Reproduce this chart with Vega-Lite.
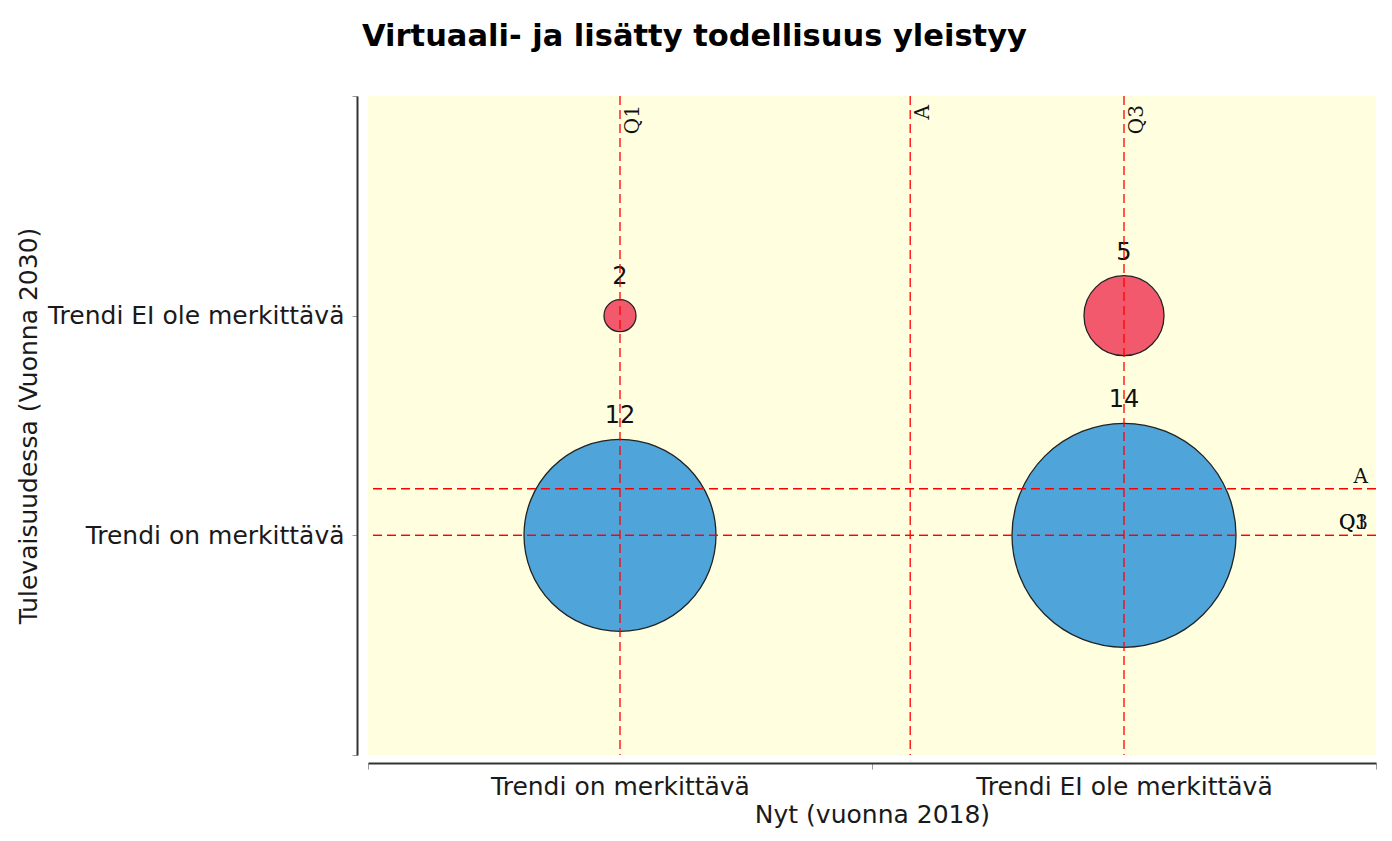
{
  "$schema": "https://vega.github.io/schema/vega-lite/v6.json",
  "width": 1008,
  "height": 659,
  "autosize": {"type": "none"},
  "padding": {"left": 368, "top": 96, "right": 16, "bottom": 86},
  "background": "white",
  "title": {
    "text": "Virtuaali- ja lisätty todellisuus yleistyy",
    "anchor": "start",
    "frame": "group",
    "dx": -6,
    "offset": 32,
    "font": "DejaVu Sans",
    "fontSize": 30.5,
    "fontWeight": "bold",
    "color": "#000000"
  },
  "config": {
    "view": {"fill": "#FFFFE0", "stroke": null}
  },
  "datasets": {
    "kuplat": [
      {"nyt": 1, "tulevaisuus": 2, "maara": 2},
      {"nyt": 2, "tulevaisuus": 2, "maara": 5},
      {"nyt": 1, "tulevaisuus": 1, "maara": 12},
      {"nyt": 2, "tulevaisuus": 1, "maara": 14}
    ],
    "pystyviivat": [
      {"arvo": 1, "nimi": "Q1"},
      {"arvo": 1.5758, "nimi": "A"},
      {"arvo": 2, "nimi": "Q3"}
    ],
    "vaakaviivat": [
      {"arvo": 1.2121, "nimi": "A"},
      {"arvo": 1, "nimi": "Q1"},
      {"arvo": 1, "nimi": "Q3"}
    ]
  },
  "layer": [
    {
      "data": {"name": "kuplat"},
      "mark": {"type": "circle", "opacity": 1, "stroke": "#222222", "strokeWidth": 1.3},
      "encoding": {
        "x": {
          "field": "nyt",
          "type": "quantitative",
          "title": "Nyt (vuonna 2018)",
          "scale": {"domain": [0.5, 2.5], "nice": false, "zero": false},
          "axis": {
            "values": [0.5, 1, 1.5, 2, 2.5],
            "labelExpr": "datum.value == 1 ? 'Trendi on merkittävä' : datum.value == 2 ? 'Trendi EI ole merkittävä' : ''",
            "tickOpacity": {"condition": {"test": "datum.value == 1 || datum.value == 2", "value": 0}, "value": 1},
            "offset": 8,
            "grid": false,
            "domainColor": "#333333",
            "domainWidth": 2,
            "tickColor": "#999999",
            "tickSize": 6,
            "labelFont": "DejaVu Sans",
            "labelFontSize": 25,
            "labelColor": "#1a1a1a",
            "labelPadding": 5,
            "labelLimit": 500,
            "labelOverlap": false,
            "labelFlush": false,
            "titleFont": "DejaVu Sans",
            "titleFontSize": 25,
            "titleFontWeight": "normal",
            "titleColor": "#1a1a1a",
            "titlePadding": 3
          }
        },
        "y": {
          "field": "tulevaisuus",
          "type": "quantitative",
          "title": "Tulevaisuudessa (Vuonna 2030)",
          "scale": {"domain": [0, 3], "nice": false, "zero": false},
          "axis": {
            "values": [0, 1, 2, 3],
            "labelExpr": "datum.value == 1 ? 'Trendi on merkittävä' : datum.value == 2 ? 'Trendi EI ole merkittävä' : ''",
            "offset": 11,
            "grid": false,
            "domainColor": "#333333",
            "domainWidth": 2,
            "tickColor": "#999999",
            "tickSize": 5,
            "labelFont": "DejaVu Sans",
            "labelFontSize": 25,
            "labelColor": "#1a1a1a",
            "labelPadding": 8,
            "labelLimit": 500,
            "labelOverlap": false,
            "labelFlush": false,
            "titleFont": "DejaVu Sans",
            "titleFontSize": 25,
            "titleFontWeight": "normal",
            "titleColor": "#1a1a1a",
            "titlePadding": 116
          }
        },
        "size": {
          "field": "maara",
          "type": "quantitative",
          "scale": {"type": "pow", "exponent": 2, "domain": [0, 14], "range": [0, 50176], "nice": false, "zero": true},
          "legend": null
        },
        "color": {
          "field": "tulevaisuus",
          "type": "nominal",
          "scale": {"domain": [1, 2], "range": ["#4FA4D9", "#F2596D"]},
          "legend": null
        }
      }
    },
    {
      "data": {"name": "kuplat"},
      "mark": {"type": "text", "font": "DejaVu Sans", "fontSize": 24, "baseline": "alphabetic", "align": "center", "color": "#111111", "dy": {"expr": "-(8 * datum.maara + 16)"}},
      "encoding": {
        "x": {"field": "nyt", "type": "quantitative", "title": "Nyt (vuonna 2018)"},
        "y": {"field": "tulevaisuus", "type": "quantitative", "title": "Tulevaisuudessa (Vuonna 2030)"},
        "text": {"field": "maara", "type": "quantitative"}
      }
    },
    {
      "data": {"name": "pystyviivat"},
      "mark": {"type": "rule", "color": "#FF0000", "strokeWidth": 1.3, "strokeDash": [9, 5]},
      "encoding": {
        "x": {"field": "arvo", "type": "quantitative", "title": "Nyt (vuonna 2018)"}
      }
    },
    {
      "data": {"name": "vaakaviivat"},
      "mark": {"type": "rule", "color": "#FF0000", "strokeWidth": 1.3, "strokeDash": [9, 5]},
      "encoding": {
        "y": {"field": "arvo", "type": "quantitative", "title": "Tulevaisuudessa (Vuonna 2030)"}
      }
    },
    {
      "data": {"name": "pystyviivat"},
      "mark": {"type": "text", "font": "DejaVu Serif", "fontSize": 20, "angle": 270, "align": "right", "baseline": "top", "dx": -9, "dy": 3, "color": "#111111"},
      "encoding": {
        "x": {"field": "arvo", "type": "quantitative", "title": "Nyt (vuonna 2018)"},
        "y": {"datum": 3, "type": "quantitative", "title": "Tulevaisuudessa (Vuonna 2030)"},
        "text": {"field": "nimi", "type": "nominal"}
      }
    },
    {
      "data": {"name": "vaakaviivat"},
      "mark": {"type": "text", "font": "DejaVu Serif", "fontSize": 20, "align": "right", "baseline": "alphabetic", "dx": -8, "dy": -6, "color": "#111111"},
      "encoding": {
        "x": {"datum": 2.5, "type": "quantitative", "title": "Nyt (vuonna 2018)"},
        "y": {"field": "arvo", "type": "quantitative", "title": "Tulevaisuudessa (Vuonna 2030)"},
        "text": {"field": "nimi", "type": "nominal"}
      }
    }
  ]
}
